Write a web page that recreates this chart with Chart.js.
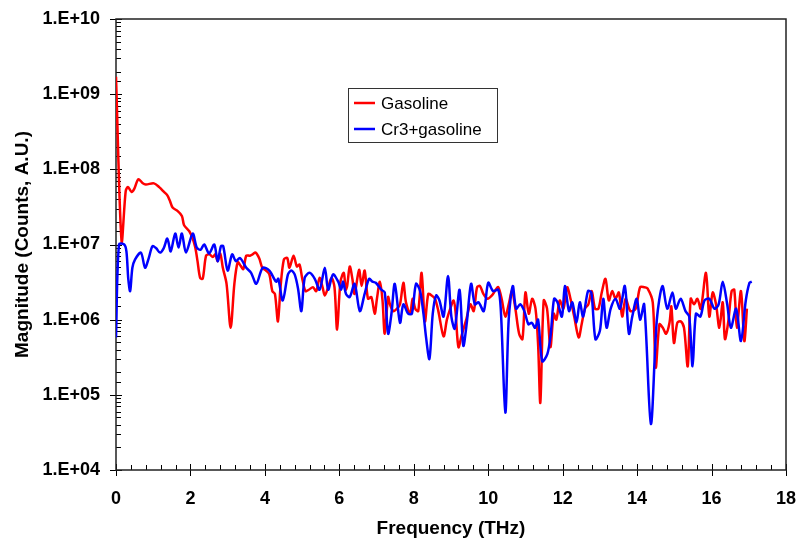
<!DOCTYPE html>
<html>
<head>
<meta charset="utf-8">
<title>Magnitude vs Frequency</title>
<script src="https://cdn.jsdelivr.net/npm/chart.js@4/dist/chart.umd.min.js"></script>
<style>
  html, body { margin: 0; padding: 0; background: #fff; }
  #chart { display: block; }
</style>
</head>
<body>
<canvas id="chart" width="798" height="540"></canvas>
<script>
'use strict';

// ======= data (frequency in THz, magnitude in counts) =======

var seriesNames = ['Gasoline', 'Cr3+gasoline'];
var seriesColors = ['#ff0000', '#0000ff'];

var gasoline = [
  [0, 1.7e9], [0.15, 1.1e7], [0.26, 5.1e7], [0.32, 5.8e7], [0.42, 5.0e7], [0.49, 5.5e7],
  [0.60, 7.4e7], [0.71, 6.6e7], [0.80, 6.3e7], [1.02, 6.5e7], [1.16, 5.8e7], [1.29, 5.0e7],
  [1.38, 4.5e7], [1.45, 3.8e7], [1.52, 3.1e7], [1.65, 2.8e7], [1.77, 2.4e7], [1.83, 1.8e7],
  [1.97, 1.5e7], [2.06, 1.2e7], [2.13, 9.1e6], [2.19, 6.0e6], [2.26, 3.6e6], [2.33, 3.5e6],
  [2.42, 7.1e6], [2.51, 7.4e6], [2.60, 6.8e6], [2.67, 7.4e6], [2.73, 6.0e6], [2.80, 7.6e6],
  [2.87, 4.9e6], [2.97, 3.0e6], [3.08, 7.8e5], [3.18, 3.0e6], [3.27, 5.8e6], [3.35, 5.2e6],
  [3.42, 4.7e6], [3.50, 7.1e6], [3.60, 7.1e6], [3.67, 7.4e6], [3.75, 7.8e6], [3.85, 6.5e6],
  [3.93, 4.9e6], [4.03, 4.5e6], [4.12, 4.0e6], [4.20, 2.4e6], [4.27, 2.2e6], [4.35, 9.5e5],
  [4.42, 2.7e6], [4.51, 6.3e6], [4.60, 6.6e6], [4.66, 4.9e6], [4.77, 7.1e6], [4.86, 5.1e6],
  [4.93, 5.4e6], [5.00, 3.6e6], [5.09, 2.4e6], [5.18, 2.5e6], [5.29, 2.7e6], [5.38, 2.4e6],
  [5.47, 3.6e6], [5.55, 2.7e6], [5.61, 2.1e6], [5.70, 2.7e6], [5.79, 3.6e6], [5.87, 2.7e6],
  [5.94, 7.4e5], [6.03, 3.2e6], [6.12, 4.2e6], [6.17, 2.5e6], [6.21, 2.8e6], [6.28, 5.1e6],
  [6.35, 3.5e6], [6.41, 2.2e6], [6.53, 4.6e6], [6.60, 2.8e6], [6.68, 4.5e6], [6.77, 1.9e6],
  [6.86, 2.0e6], [6.95, 1.2e6], [7.01, 1.9e6], [7.09, 3.2e6], [7.16, 1.8e6], [7.22, 6.5e5],
  [7.31, 2.0e6], [7.36, 1.6e6], [7.45, 1.3e6], [7.55, 1.4e6], [7.63, 1.6e6], [7.72, 3.1e6],
  [7.79, 1.7e6], [7.90, 1.2e6], [7.97, 1.9e6], [8.04, 1.4e6], [8.12, 1.3e6], [8.21, 4.2e6],
  [8.30, 9.5e5], [8.39, 2.2e6], [8.48, 2.1e6], [8.57, 1.9e6], [8.66, 1.3e6], [8.80, 6.0e5],
  [8.89, 1.0e6], [8.98, 1.4e6], [9.07, 1.8e6], [9.12, 1.3e6], [9.20, 4.3e5], [9.29, 6.3e5],
  [9.41, 1.0e6], [9.52, 1.6e6], [9.61, 1.3e6], [9.70, 2.7e6], [9.78, 2.8e6], [9.87, 2.2e6],
  [9.98, 1.9e6], [10.10, 2.1e6], [10.20, 2.5e6], [10.27, 2.7e6], [10.36, 1.9e6], [10.46, 1.1e6],
  [10.55, 1.6e6], [10.64, 2.4e6], [10.73, 1.4e6], [10.83, 6.5e5], [10.92, 5.5e5], [11.00, 2.3e6],
  [11.09, 1.2e6], [11.18, 1.9e6], [11.27, 1.4e6], [11.34, 4.7e5], [11.40, 7.9e4], [11.49, 1.8e6],
  [11.58, 1.4e6], [11.67, 4.3e5], [11.76, 1.2e6], [11.83, 1.0e6], [11.92, 1.8e6], [12.02, 1.4e6],
  [12.12, 2.7e6], [12.21, 1.9e6], [12.31, 1.1e6], [12.43, 5.8e5], [12.51, 8.7e5], [12.60, 1.4e6],
  [12.69, 1.6e6], [12.78, 2.4e6], [12.87, 1.4e6], [12.96, 1.4e6], [13.05, 2.3e6], [13.15, 3.5e6],
  [13.24, 1.8e6], [13.33, 2.4e6], [13.42, 1.9e6], [13.51, 2.3e6], [13.60, 1.1e6], [13.69, 1.9e6],
  [13.82, 1.3e6], [13.96, 1.4e6], [14.08, 2.7e6], [14.19, 2.7e6], [14.28, 2.6e6], [14.42, 1.7e6],
  [14.50, 2.3e5], [14.60, 8.7e5], [14.69, 7.8e5], [14.78, 6.5e5], [14.87, 9.1e5], [14.92, 1.5e6],
  [14.99, 4.9e5], [15.08, 9.1e5], [15.17, 9.5e5], [15.26, 7.8e5], [15.36, 2.4e5], [15.44, 1.9e6],
  [15.53, 1.6e6], [15.62, 1.9e6], [15.71, 1.4e6], [15.85, 4.2e6], [15.94, 1.1e6], [16.03, 2.3e6],
  [16.12, 1.6e6], [16.21, 7.8e5], [16.30, 1.7e6], [16.36, 5.5e5], [16.45, 9.5e5], [16.54, 2.4e6],
  [16.61, 2.5e6], [16.68, 7.8e5], [16.79, 2.4e6], [16.88, 5.2e5], [16.95, 1.4e6]
];

var cr3Gasoline = [
  [0, 5.8e5], [0.08, 1.0e7], [0.22, 1.0e7], [0.28, 8.1e6], [0.33, 3.5e6], [0.38, 2.4e6],
  [0.44, 4.9e6], [0.51, 6.3e6], [0.67, 7.8e6], [0.78, 4.9e6], [0.88, 6.6e6], [0.98, 9.5e6],
  [1.08, 8.9e6], [1.18, 7.8e6], [1.28, 8.9e6], [1.38, 1.2e7], [1.47, 8.1e6], [1.59, 1.4e7],
  [1.68, 9.1e6], [1.77, 1.4e7], [1.88, 7.8e6], [2.06, 1.4e7], [2.17, 9.1e6], [2.27, 8.5e6],
  [2.37, 1.0e7], [2.50, 7.6e6], [2.64, 1.0e7], [2.73, 6.0e6], [2.82, 9.5e6], [2.88, 9.5e6],
  [3.00, 4.5e6], [3.12, 7.4e6], [3.22, 6.0e6], [3.33, 6.6e6], [3.50, 4.9e6], [3.63, 4.2e6],
  [3.77, 3.0e6], [3.94, 4.9e6], [4.12, 4.5e6], [4.30, 3.2e6], [4.36, 3.5e6], [4.48, 1.8e6],
  [4.62, 4.0e6], [4.71, 4.5e6], [4.80, 4.0e6], [4.89, 2.6e6], [4.98, 1.3e6], [5.07, 3.6e6],
  [5.20, 4.2e6], [5.34, 3.5e6], [5.47, 2.5e6], [5.61, 4.9e6], [5.70, 2.5e6], [5.83, 4.0e6],
  [5.97, 3.2e6], [6.05, 2.5e6], [6.10, 3.2e6], [6.18, 2.2e6], [6.28, 2.0e6], [6.41, 3.0e6],
  [6.55, 1.3e6], [6.68, 2.2e6], [6.80, 3.5e6], [6.89, 3.2e6], [6.98, 3.1e6], [7.13, 2.5e6],
  [7.22, 2.3e6], [7.31, 6.5e5], [7.40, 1.2e6], [7.49, 3.0e6], [7.63, 9.1e5], [7.72, 1.6e6],
  [7.85, 1.2e6], [7.95, 1.2e6], [8.06, 3.0e6], [8.17, 2.4e6], [8.26, 1.2e6], [8.33, 5.8e5],
  [8.42, 3.0e5], [8.51, 1.2e6], [8.60, 2.1e6], [8.69, 1.8e6], [8.80, 1.1e6], [8.92, 3.8e6],
  [9.01, 1.1e6], [9.10, 7.6e5], [9.23, 2.5e6], [9.33, 4.5e5], [9.42, 8.7e5], [9.54, 3.0e6],
  [9.64, 1.6e6], [9.74, 1.7e6], [9.88, 1.3e6], [10.00, 3.1e6], [10.13, 2.4e6], [10.27, 2.5e6],
  [10.34, 1.3e6], [10.46, 5.8e4], [10.55, 1.0e6], [10.66, 2.8e6], [10.75, 1.4e6], [10.86, 1.6e6],
  [10.97, 1.3e6], [11.08, 8.7e5], [11.17, 9.1e5], [11.26, 7.8e5], [11.34, 1.0e6], [11.45, 2.8e5],
  [11.59, 3.5e5], [11.68, 6.5e5], [11.77, 1.9e6], [11.86, 1.7e6], [11.98, 1.1e6], [12.06, 2.8e6],
  [12.17, 1.3e6], [12.26, 1.7e6], [12.37, 9.1e5], [12.46, 1.7e6], [12.55, 1.1e6], [12.68, 2.4e6],
  [12.77, 2.3e6], [12.88, 5.5e5], [13.00, 7.1e5], [13.09, 1.9e6], [13.18, 7.8e5], [13.29, 1.4e6],
  [13.42, 1.9e6], [13.54, 1.4e6], [13.67, 2.8e6], [13.78, 6.5e5], [13.87, 1.1e6], [13.99, 1.9e6],
  [14.08, 1.0e6], [14.19, 1.6e6], [14.37, 4.1e4], [14.53, 1.0e6], [14.68, 2.8e6], [14.81, 1.4e6],
  [14.95, 2.3e6], [15.04, 1.4e6], [15.17, 1.9e6], [15.30, 1.3e6], [15.40, 1.1e6], [15.49, 2.4e5],
  [15.58, 1.2e6], [15.70, 1.1e6], [15.81, 1.8e6], [15.94, 1.9e6], [16.08, 1.4e6], [16.19, 1.6e6],
  [16.30, 3.2e6], [16.42, 1.6e6], [16.52, 7.8e5], [16.66, 1.4e6], [16.79, 5.2e5], [16.92, 1.8e6],
  [17.02, 3.1e6], [17.08, 3.2e6]
];

// axis ranges and tick steps
var xMin = 0, xMax = 18, xMajorStep = 2, xMinorStep = 0.4;
var yMin = 1e4, yMax = 1e10;

var xTitle = 'Frequency (THz)';
var yTitle = 'Magnitude (Counts, A.U.)';

// ======= helpers =======

var FONT = "'Liberation Sans', Arial, sans-serif";

function toPoints(pairs) {
  return pairs.map(function (p) { return { x: p[0], y: p[1] }; });
}

// 1.E+07 style labels, only on the decades
function sciLabel(value) {
  var e = Math.round(Math.log10(value));
  if (Math.abs(value / Math.pow(10, e) - 1) > 1e-6) return '';
  var s = String(Math.abs(e));
  if (s.length < 2) s = '0' + s;
  return '1.E' + (e < 0 ? '-' : '+') + s;
}

// box round the plot area, plus excel style major / minor ticks
var frameTicks = {
  id: 'frameTicks',
  beforeDatasetsDraw: function (chart) {
    var ctx = chart.ctx;
    var a = chart.chartArea;
    var xs = chart.scales.x;
    var ys = chart.scales.y;
    ctx.save();
    ctx.strokeStyle = '#000';
    ctx.lineWidth = 1;
    ctx.beginPath();

    // x ticks
    for (var v = xMin; v <= xMax + 1e-9; v += xMinorStep) {
      var px = Math.round(xs.getPixelForValue(v)) + 0.5;
      var major = Math.abs(v / xMajorStep - Math.round(v / xMajorStep)) < 1e-6;
      ctx.moveTo(px, a.bottom + (major ? 6 : 0));
      ctx.lineTo(px, a.bottom - (major ? 6 : 5));
    }

    // y ticks (log scale gives 1..9 per decade)
    ys.ticks.forEach(function (t) {
      var py = Math.round(ys.getPixelForValue(t.value)) + 0.5;
      var major = sciLabel(t.value) !== '';
      ctx.moveTo(a.left - (major ? 6 : 0), py);
      ctx.lineTo(a.left + (major ? 6 : 5), py);
    });
    ctx.stroke();

    // frame
    ctx.lineWidth = 1.5;
    ctx.strokeStyle = '#222';
    ctx.strokeRect(a.left, a.top, a.right - a.left, a.bottom - a.top);
    ctx.restore();
  }
};

// small boxed legend inside the plot
var boxLegend = {
  id: 'boxLegend',
  afterDatasetsDraw: function (chart) {
    var ctx = chart.ctx;
    var bx = 348, by = 88, bw = 149, bh = 54;
    ctx.save();
    ctx.fillStyle = '#fff';
    ctx.fillRect(bx, by, bw, bh);
    ctx.strokeStyle = '#333';
    ctx.lineWidth = 1;
    ctx.strokeRect(bx + 0.5, by + 0.5, bw, bh);
    ctx.font = '17px ' + FONT;
    ctx.textBaseline = 'middle';
    ctx.fillStyle = '#000';
    chart.data.datasets.forEach(function (ds, i) {
      var ly = by + 15 + i * 26;
      ctx.strokeStyle = ds.borderColor;
      ctx.lineWidth = 2.5;
      ctx.beginPath();
      ctx.moveTo(bx + 6, ly);
      ctx.lineTo(bx + 27, ly);
      ctx.stroke();
      ctx.fillText(ds.label, bx + 33, ly + 1);
    });
    ctx.restore();
  }
};

// ======= chart =======

var ctx = document.getElementById('chart').getContext('2d');
var chart = new Chart(ctx, {
  type: 'line',
  data: {
    datasets: [{
      label: seriesNames[0],
      data: toPoints(gasoline),
      borderColor: seriesColors[0],
      backgroundColor: seriesColors[0],
      order: 1
    }, {
      label: seriesNames[1],
      data: toPoints(cr3Gasoline),
      borderColor: seriesColors[1],
      backgroundColor: seriesColors[1],
      order: 0
    }]
  },
  options: {
    responsive: false,
    animation: false,
    devicePixelRatio: 1,
    layout: { padding: { top: 19, right: 12, left: 0, bottom: 0 } },
    elements: {
      line: { borderWidth: 2.5, tension: 0.3, fill: false },
      point: { radius: 0, hoverRadius: 0 }
    },
    plugins: {
      legend: { display: false },
      tooltip: { enabled: false }
    },
    scales: {
      x: {
        type: 'linear',
        min: xMin,
        max: xMax,
        grid: { display: false, drawTicks: false },
        border: { display: false },
        ticks: {
          stepSize: xMajorStep,
          padding: 18,
          color: '#000',
          font: { family: FONT, size: 18, weight: 'bold' },
          maxRotation: 0
        },
        title: {
          display: true,
          text: xTitle,
          color: '#000',
          font: { family: FONT, size: 19, weight: 'bold', lineHeight: 1.2 },
          padding: { top: 0, bottom: 0 }
        },
        afterFit: function (scale) {
          scale.height = 70;
          scale.paddingLeft = 0;
          scale.paddingRight = 0;
        }
      },
      y: {
        type: 'logarithmic',
        min: yMin,
        max: yMax,
        grid: { display: false, drawTicks: false },
        border: { display: false },
        ticks: {
          autoSkip: false,
          padding: 16,
          color: '#000',
          font: { family: FONT, size: 18, weight: 'bold' },
          callback: function (value) { return sciLabel(value); }
        },
        title: {
          display: true,
          text: yTitle,
          color: '#000',
          font: { family: FONT, size: 19, weight: 'bold', lineHeight: 1.2 },
          padding: { top: 11.5, bottom: 0 }
        },
        afterFit: function (scale) {
          scale.width = 116;
          scale.paddingTop = 0;
          scale.paddingBottom = 0;
        }
      }
    }
  },
  plugins: [frameTicks, boxLegend]
});
</script>
</body>
</html>
